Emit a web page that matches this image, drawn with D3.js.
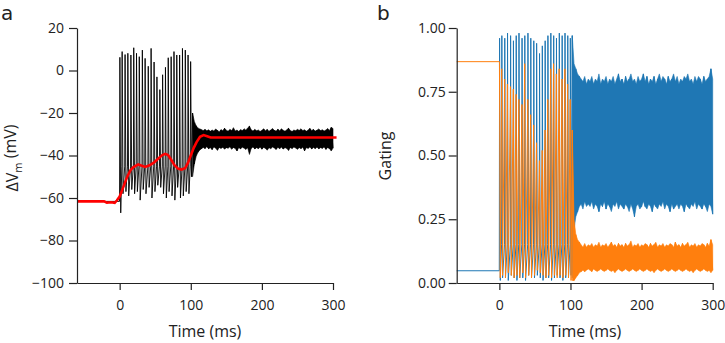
<!DOCTYPE html>
<html lang="en">
<head>
    <title>Membrane potential and gating</title>
    <script src="https://d3js.org/d3.v7.min.js"></script>
    <style>
        body { margin: 0; background: #fff; }
        text { font-family: "Open Sans", "DejaVu Sans", sans-serif; fill: #222; }
    </style>
</head>
<body>
<script>
    // ---------- data: panel a (membrane potential, mV) ----------
    const restV = -61.6;          // resting level before stimulus
    const vThreshold = -45;       // level reached just before each spike
    const spikeTimes = [0.3, 3.5, 7.6, 11.5, 15.8, 19.8, 23.7, 27.6, 31.9, 35.8,
                        40.2, 44.2, 48.4, 52.4, 56.5, 60.4, 64.4, 68.3, 72.4, 76.4,
                        80.3, 84.3, 88.3, 92.3, 96.2, 99.8];
    const spikePeaks = [6.2, 8.9, 7.5, 8.1, 7.3, 10.7, 8.1, 6.5, 9.6, 5.7,
                        2.0, 10.4, 4.0, -3.0, -9.0, -2.0, 1.5, 6.0, 6.5, 8.9,
                        7.3, 7.3, 10.4, 9.6, 7.3, 4.2];
    const spikeTroughs = [-67, -58, -57, -59, -56, -58, -57, -61, -56, -58,
                          -55, -60, -57, -54, -55, -58, -60, -57, -59, -61,
                          -55, -60, -59, -57, -58, -50];

    // envelope of the fast oscillation after spiking stops
    const bandStart = 102.5, bandStep = 2.5;
    const vUpper = [-20, -24, -26, -27, -27.5, -27.8, -28.3, -27.6, -28.4, -27.9,
                    -28.6, -28.0, -28.5, -27.5, -28.2, -28.8, -27.9, -28.3, -27.2, -28.1,
                    -28.6, -27.7, -28.3, -26.9, -28.5, -28.0, -28.7, -27.8, -28.3, -27.4,
                    -28.1, -27.0, -26.2, -27.9, -28.5, -27.7, -28.4, -28.0, -28.7, -28.1,
                    -27.5, -28.3, -27.8, -28.6, -28.0, -27.3, -28.2, -28.5, -27.7, -28.3,
                    -27.5, -28.1, -28.6, -27.9, -27.2, -28.2, -28.7, -28.0, -28.4, -27.7,
                    -28.2, -27.4, -28.3, -27.9, -28.6, -28.0, -27.3, -28.2, -27.8, -28.5,
                    -28.1, -27.5, -28.3, -27.9, -28.5, -28.0, -27.4, -28.2, -26.8, -27.3];
    const vLower = [-50, -44, -40.5, -38.5, -37.5, -36.8, -36.2, -36.7, -35.9, -36.8,
                    -36.3, -37.2, -36.0, -36.5, -37.6, -36.2, -36.7, -36.1, -37.0, -36.3,
                    -36.6, -35.9, -37.1, -36.2, -36.7, -37.8, -36.3, -36.8, -36.1, -36.5,
                    -37.2, -36.3, -39.5, -36.6, -36.0, -36.9, -36.3, -36.7, -36.1, -37.0,
                    -36.2, -36.6, -37.5, -36.3, -36.8, -36.0, -36.5, -37.1, -36.2, -36.7,
                    -36.1, -36.9, -36.3, -36.6, -37.7, -36.2, -36.8, -36.0, -36.5, -37.0,
                    -36.3, -36.7, -36.1, -37.8, -36.3, -36.6, -36.0, -36.9, -36.2, -36.7,
                    -36.1, -36.8, -36.3, -36.6, -36.0, -37.1, -36.3, -36.7, -37.9, -36.5];

    // smoothed potential (red)
    const smoothT = [-60, -22, -18, -12, -7, -4, 0, 5, 10, 15, 19, 26, 31, 36, 42, 48, 54,
                     60, 64, 68, 72, 77, 82, 87, 92, 96, 100, 104, 108, 113, 118, 123, 128, 305];
    const smoothV = [-61.6, -61.6, -62.2, -62.0, -62.3, -61.2, -59.3, -55, -50.5, -47, -45.6,
                     -44.2, -44.8, -45.4, -44.6, -43.4, -41.5, -39.8, -39.2, -39.8, -41.8,
                     -44.5, -46.2, -46.6, -46.0, -43.5, -40.0, -36.5, -33.8, -31.2, -30.4,
                     -30.9, -31.5, -31.5];

    // ---------- data: panel b (gating variables) ----------
    const restM = 0.048, restH = 0.868;
    const mThreshold = 0.15;
    const mPeaks = [0.96, 0.97, 0.96, 0.98, 0.97, 0.95, 0.97, 0.98, 0.96, 0.97,
                    0.98, 0.96, 0.95, 0.94, 0.90, 0.93, 0.95, 0.97, 0.98, 0.97,
                    0.96, 0.98, 0.97, 0.98, 0.97, 0.96];
    const mTroughs = [0.01, 0.02, 0.02, 0.01, 0.03, 0.02, 0.01, 0.02, 0.02, 0.01,
                      0.03, 0.02, 0.02, 0.03, 0.02, 0.01, 0.02, 0.02, 0.01, 0.02,
                      0.03, 0.02, 0.01, 0.02, 0.02, 0.03];
    const hPeaks = [0.868, 0.84, 0.80, 0.78, 0.77, 0.76, 0.74, 0.72, 0.70, 0.86,
                    0.72, 0.66, 0.62, 0.55, 0.48, 0.52, 0.60, 0.72, 0.84, 0.86,
                    0.82, 0.84, 0.80, 0.84, 0.78, 0.72];
    const hTroughs = [0.02, 0.03, 0.02, 0.04, 0.03, 0.02, 0.03, 0.02, 0.04, 0.02,
                      0.03, 0.02, 0.03, 0.05, 0.04, 0.03, 0.02, 0.03, 0.02, 0.03,
                      0.02, 0.03, 0.02, 0.03, 0.02, 0.01];

    const mUpper = [0.97, 0.86, 0.84, 0.82, 0.81, 0.80, 0.79, 0.81, 0.78, 0.80,
                    0.79, 0.81, 0.78, 0.80, 0.79, 0.82, 0.78, 0.80, 0.79, 0.81,
                    0.78, 0.80, 0.79, 0.81, 0.78, 0.80, 0.82, 0.79, 0.80, 0.78,
                    0.81, 0.79, 0.80, 0.82, 0.79, 0.80, 0.78, 0.81, 0.79, 0.80,
                    0.82, 0.79, 0.81, 0.78, 0.80, 0.79, 0.81, 0.78, 0.80, 0.82,
                    0.79, 0.81, 0.80, 0.78, 0.81, 0.79, 0.80, 0.82, 0.79, 0.81,
                    0.78, 0.80, 0.79, 0.81, 0.80, 0.82, 0.79, 0.80, 0.78, 0.81,
                    0.79, 0.81, 0.80, 0.78, 0.81, 0.79, 0.80, 0.81, 0.84, 0.80];
    const mLower = [0.02, 0.21, 0.26, 0.28, 0.30, 0.31, 0.29, 0.32, 0.30, 0.31,
                    0.30, 0.32, 0.29, 0.31, 0.30, 0.28, 0.31, 0.30, 0.32, 0.29,
                    0.31, 0.30, 0.28, 0.31, 0.30, 0.32, 0.29, 0.31, 0.30, 0.29,
                    0.31, 0.30, 0.28, 0.31, 0.29, 0.26, 0.30, 0.31, 0.29, 0.30,
                    0.32, 0.30, 0.29, 0.31, 0.30, 0.28, 0.31, 0.30, 0.29, 0.31,
                    0.30, 0.32, 0.29, 0.31, 0.30, 0.28, 0.31, 0.29, 0.30, 0.31,
                    0.29, 0.31, 0.30, 0.28, 0.31, 0.30, 0.29, 0.31, 0.30, 0.32,
                    0.29, 0.31, 0.30, 0.29, 0.31, 0.30, 0.28, 0.31, 0.30, 0.27];
    const hUpper = [0.60, 0.25, 0.19, 0.17, 0.16, 0.15, 0.14, 0.155, 0.14, 0.15,
                    0.145, 0.155, 0.14, 0.15, 0.145, 0.16, 0.14, 0.15, 0.145, 0.155,
                    0.14, 0.15, 0.16, 0.145, 0.15, 0.14, 0.155, 0.145, 0.15, 0.14,
                    0.155, 0.145, 0.15, 0.165, 0.14, 0.15, 0.145, 0.155, 0.14, 0.15,
                    0.145, 0.155, 0.15, 0.14, 0.155, 0.145, 0.15, 0.16, 0.14, 0.15,
                    0.145, 0.155, 0.14, 0.15, 0.145, 0.155, 0.15, 0.14, 0.16, 0.145,
                    0.15, 0.14, 0.155, 0.145, 0.15, 0.16, 0.14, 0.15, 0.145, 0.155,
                    0.14, 0.15, 0.145, 0.155, 0.15, 0.14, 0.155, 0.145, 0.17, 0.15];
    const hLower = [0.01, 0.01, 0.02, 0.03, 0.04, 0.045, 0.05, 0.045, 0.05, 0.055,
                    0.05, 0.045, 0.055, 0.05, 0.045, 0.05, 0.055, 0.05, 0.045, 0.05,
                    0.055, 0.05, 0.045, 0.05, 0.04, 0.05, 0.055, 0.05, 0.045, 0.05,
                    0.055, 0.05, 0.045, 0.05, 0.055, 0.05, 0.045, 0.05, 0.055, 0.05,
                    0.045, 0.05, 0.055, 0.05, 0.045, 0.05, 0.04, 0.05, 0.055, 0.05,
                    0.045, 0.05, 0.055, 0.05, 0.045, 0.05, 0.055, 0.05, 0.045, 0.05,
                    0.055, 0.05, 0.045, 0.05, 0.055, 0.05, 0.045, 0.05, 0.04, 0.05,
                    0.055, 0.05, 0.045, 0.05, 0.055, 0.05, 0.045, 0.05, 0.04, 0.05];

    const vTicks = [20, 0, -20, -40, -60, -80, -100];
    const gTicks = [0, 0.25, 0.5, 0.75, 1];
    const tTicks = [0, 100, 200, 300];

    const blue = "#1f77b4", orange = "#ff7f0e";

    // ---------- svg ----------
    const svg = d3.select("body").append("svg")
        .attr("width", 725).attr("height", 343);

    const bandT = vUpper.map((d, i) => bandStart + i * bandStep);

    function styleAxis(g) {
        g.selectAll("path, line").attr("stroke", "#222").attr("stroke-width", 1.2);
        g.selectAll("text").attr("font-size", 14).attr("fill", "#222")
            .style("font-family", "'Open Sans', sans-serif");
    }

    // ===== panel a =====
    const xA = d3.scaleLinear().domain([-60, 300]).range([77, 333]);
    const yA = d3.scaleLinear().domain([-100, 20]).range([283, 28]);
    const gA = svg.append("g");

    // spiking trace
    const tracePts = [[-60, restV], [spikeTimes[0] - 0.5, restV]];
    spikeTimes.forEach((t, i) => {
        if (i > 0) tracePts.push([t - 0.5, vThreshold]);
        tracePts.push([t, spikePeaks[i]]);
        tracePts.push([t + 1.2, spikeTroughs[i]]);
    });
    // zigzag across the envelope so the band joins the trace
    bandT.forEach((t, i) => tracePts.push([t, i % 2 ? vLower[i] : vUpper[i]]));

    gA.append("path")
        .datum(tracePts)
        .attr("fill", "none")
        .attr("stroke", "#000")
        .attr("stroke-width", 0.9)
        .attr("d", d3.line().x(d => xA(d[0])).y(d => yA(d[1])));

    gA.append("path")
        .datum(bandT)
        .attr("fill", "#000")
        .attr("stroke", "#000")
        .attr("stroke-width", 0.6)
        .attr("d", d3.area()
            .x(t => xA(t))
            .y0((t, i) => yA(vLower[i]))
            .y1((t, i) => yA(vUpper[i])));

    gA.append("path")
        .datum(smoothT.map((t, i) => [t, smoothV[i]]))
        .attr("fill", "none")
        .attr("stroke", "#ff0000")
        .attr("stroke-width", 2.6)
        .attr("d", d3.line().x(d => xA(d[0])).y(d => yA(d[1])));

    gA.append("g")
        .attr("transform", "translate(77,0)")
        .call(d3.axisLeft(yA).tickValues(vTicks).tickSize(8).tickSizeOuter(0).tickPadding(5))
        .call(styleAxis);
    gA.append("g")
        .attr("transform", "translate(0,283)")
        .call(d3.axisBottom(xA).tickValues(tTicks).tickSize(7).tickSizeOuter(0).tickPadding(10))
        .call(styleAxis);

    gA.append("text").attr("x", 1).attr("y", 20).attr("font-size", 20)
        .style("font-family", "'DejaVu Sans', sans-serif").text("a");
    gA.append("text").attr("x", 205).attr("y", 337).attr("font-size", 16)
        .attr("text-anchor", "middle").text("Time (ms)");
    const yLabA = gA.append("text")
        .attr("transform", "translate(18,158) rotate(-90)")
        .attr("font-size", 16).attr("text-anchor", "middle");
    yLabA.append("tspan").text("ΔV");
    yLabA.append("tspan").attr("font-size", 11).attr("dy", "0.35em").text("m");
    yLabA.append("tspan").attr("dy", "-0.35em").text(" (mV)");

    // ===== panel b =====
    const xB = d3.scaleLinear().domain([-60, 300]).range([456.7, 712.7]);
    const yB = d3.scaleLinear().domain([0, 1]).range([283, 28]);
    const gB = svg.append("g");

    const mPts = [[-60, restM], [spikeTimes[0] - 0.4, restM]];
    const hPts = [[-60, restH]];
    spikeTimes.forEach((t, i) => {
        if (i > 0) mPts.push([t - 0.4, mThreshold]);
        mPts.push([t, mPeaks[i]]);
        mPts.push([t + 1.0, mTroughs[i]]);
        hPts.push([t - 0.2, hPeaks[i]]);
        hPts.push([t + 1.0, hTroughs[i]]);
    });
    bandT.forEach((t, i) => {
        mPts.push([t, i % 2 ? mLower[i] : mUpper[i]]);
        hPts.push([t, i % 2 ? hLower[i] : hUpper[i]]);
    });

    const lineB = d3.line().x(d => xB(d[0])).y(d => yB(d[1]));
    const areaB = (lo, hi) => d3.area().x(t => xB(t))
        .y0((t, i) => yB(lo[i])).y1((t, i) => yB(hi[i]));

    gB.append("path").datum(mPts).attr("fill", "none")
        .attr("stroke", blue).attr("stroke-width", 1).attr("d", lineB);
    gB.append("path").datum(bandT).attr("fill", blue)
        .attr("stroke", blue).attr("stroke-width", 0.6).attr("d", areaB(mLower, mUpper));
    gB.append("path").datum(hPts).attr("fill", "none")
        .attr("stroke", orange).attr("stroke-width", 1).attr("d", lineB);
    gB.append("path").datum(bandT).attr("fill", orange)
        .attr("stroke", orange).attr("stroke-width", 0.6).attr("d", areaB(hLower, hUpper));

    gB.append("g")
        .attr("transform", "translate(456.7,0)")
        .call(d3.axisLeft(yB).tickValues(gTicks).tickFormat(d3.format(".2f"))
            .tickSize(8).tickSizeOuter(0).tickPadding(3))
        .call(styleAxis);
    gB.append("g")
        .attr("transform", "translate(0,283)")
        .call(d3.axisBottom(xB).tickValues(tTicks).tickSize(7).tickSizeOuter(0).tickPadding(10))
        .call(styleAxis);

    gB.append("text").attr("x", 377).attr("y", 20).attr("font-size", 20)
        .style("font-family", "'DejaVu Sans', sans-serif").text("b");
    gB.append("text").attr("x", 585).attr("y", 337).attr("font-size", 16)
        .attr("text-anchor", "middle").text("Time (ms)");
    gB.append("text")
        .attr("transform", "translate(391,156) rotate(-90)")
        .attr("font-size", 16).attr("text-anchor", "middle").text("Gating");
</script>
</body>
</html>
